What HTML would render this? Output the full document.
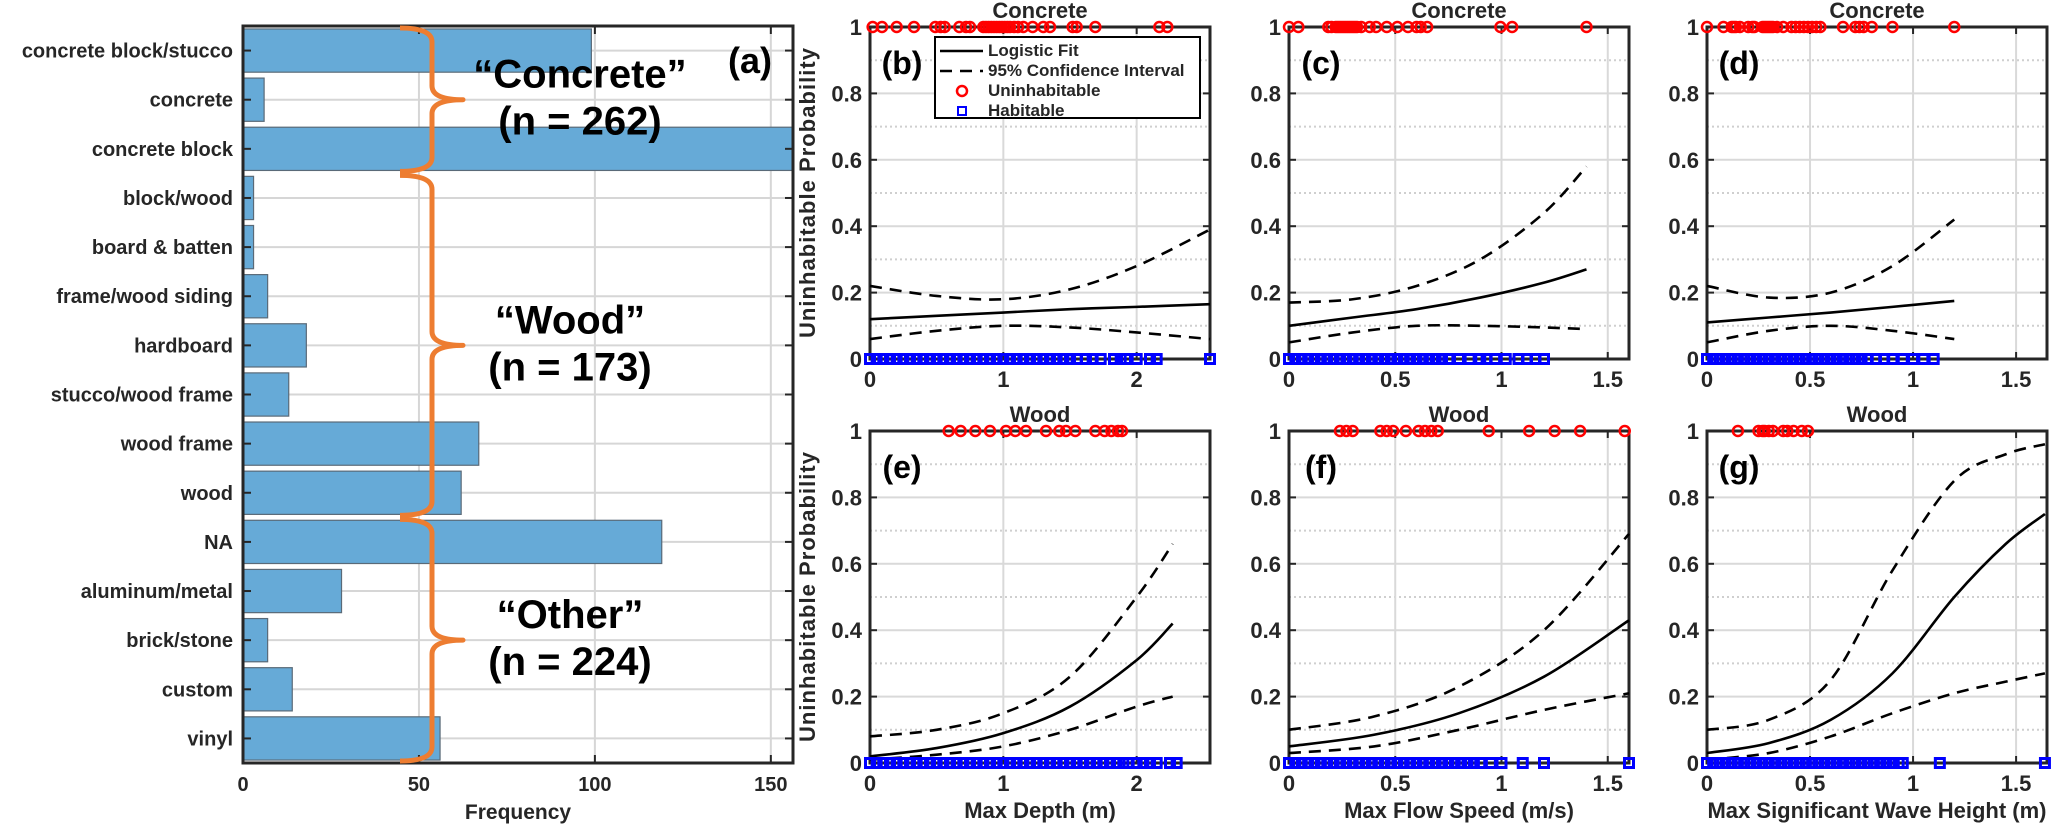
<!DOCTYPE html>
<html><head><meta charset="utf-8">
<style>
html,body{margin:0;padding:0;background:#fff;}
svg{display:block;font-family:"Liberation Sans",Arial,sans-serif;}
text{font-weight:bold;}
</style></head>
<body>
<svg id="fig" width="2067" height="825" viewBox="0 0 2067 825" xmlns="http://www.w3.org/2000/svg">
<g id="panelA"></g>
<g id="panels"></g>
</svg>
<script>
// ---------- Panel (a) data ----------
const catLabels = ["concrete block/stucco","concrete","concrete block","block/wood","board & batten","frame/wood siding","hardboard","stucco/wood frame","wood frame","wood","NA","aluminum/metal","brick/stone","custom","vinyl"];
const catCounts = [99,6,157,3,3,7,18,13,67,62,119,28,7,14,56];
const freqTicks = [0,50,100,150];
const groupNames = ["\u201CConcrete\u201D","\u201CWood\u201D","\u201COther\u201D"];
const groupN = ["(n = 262)","(n = 173)","(n = 224)"];
const groupStart = [0,3,10];
const groupEnd = [3,10,15];

// ---------- Logistic panels data ----------
const bX=[0,0.5,1,1.5,2,2.55], bFit=[0.12,0.13,0.14,0.15,0.157,0.165], bUp=[0.22,0.19,0.18,0.21,0.28,0.39], bLo=[0.06,0.085,0.10,0.095,0.08,0.06];
const cX=[0,0.3,0.6,0.9,1.2,1.4], cFit=[0.10,0.125,0.15,0.185,0.23,0.27], cUp=[0.17,0.18,0.22,0.30,0.44,0.58], cLo=[0.05,0.08,0.10,0.10,0.095,0.09];
const dX=[0,0.3,0.6,0.9,1.2], dFit=[0.11,0.125,0.14,0.157,0.175], dUp=[0.22,0.185,0.20,0.28,0.42], dLo=[0.05,0.085,0.10,0.085,0.06];
const eX=[0,0.5,1,1.5,2,2.27], eFit=[0.02,0.045,0.09,0.17,0.31,0.42], eUp=[0.08,0.10,0.15,0.26,0.50,0.66], eLo=[0.01,0.025,0.05,0.10,0.17,0.20];
const fX=[0,0.4,0.8,1.2,1.6], fFit=[0.05,0.085,0.15,0.26,0.43], fUp=[0.10,0.14,0.23,0.40,0.69], fLo=[0.03,0.05,0.10,0.16,0.21];
const gX=[0,0.3,0.6,0.9,1.2,1.45,1.64], gFit=[0.03,0.06,0.13,0.27,0.50,0.66,0.75], gUp=[0.10,0.13,0.25,0.58,0.85,0.93,0.96], gLo=[0.01,0.03,0.08,0.15,0.21,0.245,0.27];

const bUnin=[0.02,0.09,0.20,0.33,0.49,0.53,0.56,0.67,0.72,0.75,0.85,0.87,0.89,0.91,0.93,0.95,0.97,0.99,1.01,1.03,1.05,1.08,1.11,1.15,1.22,1.30,1.35,1.52,1.55,1.69,2.17,2.23];
const bHab=[0,0.05,0.1,0.15,0.2,0.25,0.3,0.35,0.4,0.45,0.5,0.55,0.6,0.65,0.7,0.75,0.8,0.85,0.9,0.95,1.0,1.05,1.1,1.15,1.2,1.25,1.3,1.35,1.4,1.45,1.5,1.55,1.62,1.67,1.73,1.83,1.88,1.92,2.0,2.1,2.15,2.55];
const cUnin=[0,0.044,0.185,0.20,0.22,0.23,0.24,0.25,0.26,0.27,0.28,0.29,0.30,0.31,0.32,0.34,0.38,0.41,0.46,0.51,0.56,0.60,0.62,0.65,0.995,1.05,1.40];
const cHab=[0,0.03,0.06,0.09,0.12,0.15,0.18,0.21,0.24,0.27,0.3,0.33,0.36,0.39,0.42,0.45,0.48,0.51,0.54,0.57,0.6,0.63,0.66,0.69,0.72,0.75,0.8,0.85,0.9,0.93,0.97,1.02,1.08,1.12,1.16,1.2];
const dUnin=[0,0.08,0.12,0.13,0.14,0.16,0.2,0.22,0.23,0.27,0.28,0.29,0.3,0.31,0.32,0.34,0.37,0.41,0.43,0.45,0.47,0.49,0.51,0.53,0.55,0.66,0.72,0.74,0.76,0.8,0.9,1.2];
const dHab=[0,0.03,0.06,0.09,0.12,0.15,0.18,0.21,0.24,0.27,0.3,0.33,0.36,0.39,0.42,0.45,0.48,0.51,0.54,0.57,0.6,0.63,0.66,0.69,0.72,0.75,0.78,0.82,0.86,0.9,0.95,1.0,1.05,1.1];
const eUnin=[0.59,0.68,0.79,0.90,1.02,1.09,1.17,1.32,1.42,1.47,1.54,1.69,1.76,1.81,1.86,1.89];
const eHab=[0,0.05,0.1,0.15,0.2,0.25,0.3,0.35,0.4,0.45,0.5,0.55,0.6,0.65,0.7,0.75,0.8,0.85,0.9,0.95,1.0,1.05,1.1,1.15,1.2,1.25,1.3,1.35,1.4,1.45,1.5,1.55,1.6,1.65,1.7,1.75,1.8,1.85,1.9,1.94,2.0,2.05,2.1,2.15,2.25,2.3];
const fUnin=[0.24,0.27,0.30,0.43,0.46,0.49,0.55,0.61,0.64,0.67,0.70,0.94,1.13,1.25,1.37,1.58];
const fHab=[0,0.03,0.06,0.09,0.12,0.15,0.18,0.21,0.24,0.27,0.3,0.33,0.36,0.39,0.42,0.45,0.48,0.51,0.54,0.57,0.6,0.63,0.66,0.69,0.72,0.75,0.78,0.81,0.84,0.87,0.9,0.95,1.0,1.1,1.2,1.6];
const gUnin=[0.15,0.25,0.27,0.28,0.30,0.32,0.37,0.39,0.42,0.46,0.49];
const gHab=[0,0.03,0.06,0.09,0.12,0.15,0.18,0.21,0.24,0.27,0.3,0.33,0.36,0.39,0.42,0.45,0.48,0.51,0.54,0.57,0.6,0.63,0.66,0.69,0.72,0.75,0.78,0.81,0.84,0.87,0.9,0.93,0.95,1.13,1.64];

const NS="http://www.w3.org/2000/svg";
function mk(tag, attrs, parent){const e=document.createElementNS(NS,tag);for(const k in attrs)e.setAttribute(k,attrs[k]);parent.appendChild(e);return e;}
function txt(s, attrs, parent){const e=mk("text",attrs,parent);e.textContent=s;return e;}

// ---------- Panel (a) ----------
(function(){
  const g=document.getElementById("panelA");
  const L=243,T=26,R=793,B=763,xmax=156.3;
  const xs=v=>L+v*(R-L)/xmax;
  const band=(B-T)/catLabels.length;
  const yc=i=>T+band*(i+0.5);
  freqTicks.forEach(t=>{ if(t>0){const l=mk("line",{x1:xs(t),x2:xs(t),y1:T,y2:B,stroke:"#d6d6d6","stroke-width":2},g);
    
    }});
  catLabels.forEach((c,i)=>{const l=mk("line",{x1:L,x2:R,y1:yc(i),y2:yc(i),stroke:"#d6d6d6","stroke-width":2},g);
    
    });
  const clip=mk("clipPath",{id:"clipA"},g); mk("rect",{x:L,y:T,width:R-L,height:B-T},clip);
  catCounts.forEach((v,i)=>{
    const r=mk("rect",{x:L,y:yc(i)-band*0.44,width:xs(v)-L,height:band*0.88,fill:"#66aad7",stroke:"#5a6a78","stroke-width":1.2,"clip-path":"url(#clipA)"},g);
    
    
    const t=txt(catLabels[i],{x:L-10,y:yc(i)+7,"text-anchor":"end","font-size":20,fill:"#262626"},g);
    
    
    mk("line",{x1:L,x2:L+8,y1:yc(i),y2:yc(i),stroke:"#262626","stroke-width":2},g);
    mk("line",{x1:R,x2:R-8,y1:yc(i),y2:yc(i),stroke:"#262626","stroke-width":2},g);
  });
  freqTicks.forEach(t=>{
    const l=txt(String(t),{x:xs(t),y:791,"text-anchor":"middle","font-size":20,fill:"#262626"},g);
    
    
    mk("line",{x1:xs(t),x2:xs(t),y1:B,y2:B-8,stroke:"#262626","stroke-width":2},g);
    mk("line",{x1:xs(t),x2:xs(t),y1:T,y2:T+8,stroke:"#262626","stroke-width":2},g);
  });
  const box=mk("rect",{x:L,y:T,width:R-L,height:B-T,fill:"none",stroke:"#262626","stroke-width":3},g);
  
  
  const xl=txt("Frequency",{x:(L+R)/2,y:819,"text-anchor":"middle","font-size":21,fill:"#262626"},g);
  
  
  const pa=txt("(a)",{x:750,y:73,"text-anchor":"middle","font-size":36,fill:"#000"},g);
  
  
  const bx=400, bv=432, tip=463;
  const centers=[580,570,570];
  groupStart.forEach((s,i)=>{
    const y0=T+band*s+2, y1=T+band*groupEnd[i]-2, ym=(y0+y1)/2;
    const d=`M${bx},${y0} Q${bv},${y0} ${bv},${y0+14} L${bv},${ym-14} Q${bv},${ym} ${tip},${ym} Q${bv},${ym} ${bv},${ym+14} L${bv},${y1-14} Q${bv},${y1} ${bx},${y1}`;
    const p=mk("path",{d:d,fill:"none",stroke:"#ed7d31","stroke-width":5,"stroke-linejoin":"round"},g);
    
    
    const t1=txt(groupNames[i],{x:centers[i],y:ym-12,"text-anchor":"middle","font-size":40,fill:"#000"},g);
    
    
    const t2=txt(groupN[i],{x:centers[i],y:ym+35,"text-anchor":"middle","font-size":40,fill:"#000"},g);
    
    
  });
})();

// ---------- Logistic panels ----------
function smoothPath(pts){
  let d=`M${pts[0][0]},${pts[0][1]}`;
  for(let i=0;i<pts.length-1;i++){
    const p0=pts[Math.max(i-1,0)],p1=pts[i],p2=pts[i+1],p3=pts[Math.min(i+2,pts.length-1)];
    const c1=[p1[0]+(p2[0]-p0[0])/6,p1[1]+(p2[1]-p0[1])/6];
    const c2=[p2[0]-(p3[0]-p1[0])/6,p2[1]-(p3[1]-p1[1])/6];
    d+=` C${c1[0]},${c1[1]} ${c2[0]},${c2[1]} ${p2[0]},${p2[1]}`;
  }
  return d;
}
const panelsCfg=[
 {id:"b",L:870,T:27,xmax:2.55,xt:[0,1,2],title:"Concrete",X:bX,fit:bFit,up:bUp,lo:bLo,un:bUnin,hab:bHab,ylab:true,legend:true},
 {id:"c",L:1289,T:27,xmax:1.6,xt:[0,0.5,1,1.5],title:"Concrete",X:cX,fit:cFit,up:cUp,lo:cLo,un:cUnin,hab:cHab},
 {id:"d",L:1707,T:27,xmax:1.65,xt:[0,0.5,1,1.5],title:"Concrete",X:dX,fit:dFit,up:dUp,lo:dLo,un:dUnin,hab:dHab},
 {id:"e",L:870,T:431,xmax:2.55,xt:[0,1,2],title:"Wood",X:eX,fit:eFit,up:eUp,lo:eLo,un:eUnin,hab:eHab,ylab:true,xlab:"Max Depth (m)"},
 {id:"f",L:1289,T:431,xmax:1.6,xt:[0,0.5,1,1.5],title:"Wood",X:fX,fit:fFit,up:fUp,lo:fLo,un:fUnin,hab:fHab,xlab:"Max Flow Speed (m/s)"},
 {id:"g",L:1707,T:431,xmax:1.65,xt:[0,0.5,1,1.5],title:"Wood",X:gX,fit:gFit,up:gUp,lo:gLo,un:gUnin,hab:gHab,xlab:"Max Significant Wave Height (m)"}
];
const yTicks=[0,0.2,0.4,0.6,0.8,1];
const yMinor=[0.1,0.3,0.5,0.7,0.9];
const PW=340, PH=332;
const root=document.getElementById("panels");
panelsCfg.forEach(c=>{
  const g=mk("g",{},root);
  
  
  const L=c.L,T=c.T,R=L+PW,B=T+PH;
  const xs=v=>L+v*PW/c.xmax, ys=v=>B-v*PH;
  yMinor.forEach(v=>{const l=mk("line",{x1:L,x2:R,y1:ys(v),y2:ys(v),stroke:"#cfcfcf","stroke-width":2,"stroke-dasharray":"2,3"},g);
    
    });
  yTicks.forEach(v=>{const l=mk("line",{x1:L,x2:R,y1:ys(v),y2:ys(v),stroke:"#d9d9d9","stroke-width":2},g);
    
    
    mk("line",{x1:L,x2:L+7,y1:ys(v),y2:ys(v),stroke:"#262626","stroke-width":2},g);
    mk("line",{x1:R,x2:R-7,y1:ys(v),y2:ys(v),stroke:"#262626","stroke-width":2},g);
    const t=txt(String(v),{x:L-8,y:ys(v)+8,"text-anchor":"end","font-size":22,fill:"#262626"},g);
    
    });
  c.xt.forEach(v=>{const l=mk("line",{x1:xs(v),x2:xs(v),y1:T,y2:B,stroke:"#d9d9d9","stroke-width":2},g);
    
    
    mk("line",{x1:xs(v),x2:xs(v),y1:B,y2:B-7,stroke:"#262626","stroke-width":2},g);
    mk("line",{x1:xs(v),x2:xs(v),y1:T,y2:T+7,stroke:"#262626","stroke-width":2},g);
    const t=txt(String(v),{x:xs(v),y:B+28,"text-anchor":"middle","font-size":22,fill:"#262626"},g);
    
    });
  const box=mk("rect",{x:L,y:T,width:PW,height:PH,fill:"none",stroke:"#262626","stroke-width":3},g);
  
  
  const mkCurve=(arr,dash,name)=>{
    const pts=c.X.map((x,i)=>[xs(x),ys(arr[i])]);
    const p=mk("path",{d:smoothPath(pts),fill:"none",stroke:"#000","stroke-width":2.6},g);
    if(dash)p.setAttribute("stroke-dasharray","12,8");
    
    
  };
  mkCurve(c.up,true,'ci-upper');
  mkCurve(c.lo,true,'ci-lower');
  mkCurve(c.fit,false,'logistic-fit');
  c.hab.forEach(v=>{const r=mk("rect",{x:xs(v)-4.5,y:B-4.5,width:9,height:9,fill:"none",stroke:"#0000ff","stroke-width":3},g);
    
    });
  c.un.forEach(v=>{const r=mk("circle",{cx:xs(v),cy:T,r:5,fill:"none",stroke:"#ff0000","stroke-width":2.5},g);
    
    });
  const tt=txt(c.title,{x:L+PW/2,y:T-9,"text-anchor":"middle","font-size":22,fill:"#262626"},g);
  
  
  const pl=txt("("+c.id+")",{x:L+32,y:T+47,"text-anchor":"middle","font-size":32,fill:"#000"},g);
  
  
  if(c.ylab){const y=txt("Uninhabitable Probability",{x:0,y:0,"text-anchor":"middle","font-size":22,fill:"#262626",textLength:290,transform:`translate(${L-55},${T+PH/2}) rotate(-90)`},g);
    
    }
  if(c.xlab){const x=txt(c.xlab,{x:L+PW/2,y:B+55,"text-anchor":"middle","font-size":22,fill:"#262626"},g);
    
    }
  if(c.legend){
    const lg=mk("g",{},g);
    
    
    mk("rect",{x:935,y:37,width:265,height:81,fill:"#fff",stroke:"#000","stroke-width":2},lg);
    mk("line",{x1:940,x2:983,y1:51,y2:51,stroke:"#000","stroke-width":2.6},lg);
    mk("line",{x1:940,x2:983,y1:71,y2:71,stroke:"#000","stroke-width":2.6,"stroke-dasharray":"12,8"},lg);
    mk("circle",{cx:962,cy:91,r:5,fill:"none",stroke:"#ff0000","stroke-width":2.5},lg);
    mk("rect",{x:958,y:107,width:8,height:8,fill:"none",stroke:"#0000ff","stroke-width":2},lg);
    const names=["Logistic Fit","95% Confidence Interval","Uninhabitable","Habitable"];
    names.forEach((n,i)=>{const t=txt(n,{x:988,y:56+i*20,"font-size":17,fill:"#262626"},lg);
      
      });
  }
});
</script>
</body></html>
